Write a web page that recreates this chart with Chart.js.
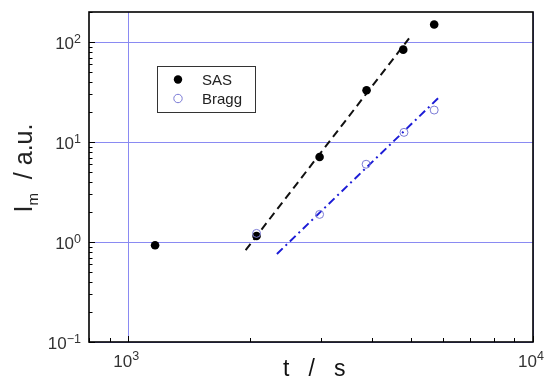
<!DOCTYPE html>
<html><head><meta charset="utf-8">
<script src="https://cdn.jsdelivr.net/npm/chart.js@4/dist/chart.umd.min.js"></script>
<style>html,body{margin:0;padding:0;background:#fff}#wrap{width:547px;height:381px;position:relative}</style>
</head><body><div id="wrap"><canvas id="c"></canvas></div>
<script>
// ---- data ----
const sasT = [1165, 2075, 2970, 3880, 4780, 5700];
const sasI = [0.93, 1.15, 7.1, 33, 84, 150];
const braggT = [2075, 2970, 3870, 4800, 5700];
const braggI = [1.22, 1.89, 6.0, 12.5, 20.9];
const sasFitT = [1950, 4940];
const sasFitI = [0.83, 109];
const braggFitT = [2330, 5860];
const braggFitI = [0.76, 28];
const xTickValues = [1000, 10000];
const xTickExps = ['3', '4'];
const yTickValues = [0.1, 1, 10, 100];
const yTickExps = ['−1', '0', '1', '2'];
const tickBase = '10';
const seriesNames = ['SAS', 'Bragg'];
const xTitle = ' t   /   s';
const yTitleParts = ['I', 'm', '  / a.u.'];

const FONT = '"Liberation Sans", Arial, sans-serif';
const GRID = '#8a8af2';
const toPts = (xs, ys) => xs.map((x, i) => ({x: x, y: ys[i]}));

const minorTicks = {
  id: 'minorTicks',
  afterDatasetsDraw(chart) {
    const {ctx, chartArea: a, scales: {x, y}} = chart;
    ctx.save();
    ctx.strokeStyle = '#000';
    ctx.lineWidth = 1;
    ctx.beginPath();
    for (let d = 100; d <= 10000; d *= 10) {
      for (let k = 1; k <= 9; k++) {
        const v = d * k;
        if (v < x.min || v > x.max) continue;
        const px = Math.round(x.getPixelForValue(v)) + 0.5;
        const len = k === 1 ? 6 : 4;
        ctx.moveTo(px, a.bottom); ctx.lineTo(px, a.bottom - len);
      }
    }
    for (let d = 0.1; d <= 100; d *= 10) {
      for (let k = 1; k <= 9; k++) {
        const v = d * k;
        if (v < y.min * 0.999 || v > y.max) continue;
        const py = Math.round(y.getPixelForValue(v)) + 0.5;
        const len = k === 1 ? 6 : 3.5;
        ctx.moveTo(a.left, py); ctx.lineTo(a.left + len, py);
      }
    }
    ctx.stroke();
    ctx.lineWidth = 1.6;
    ctx.strokeRect(a.left, a.top, a.right - a.left, a.bottom - a.top);
    ctx.restore();
  }
};

// tick labels "10" with a superscript exponent, placed through the scales
const powerLabels = {
  id: 'powerLabels',
  afterDraw(chart) {
    const {ctx, chartArea: a, scales: {x, y}} = chart;
    const big = '17px ' + FONT, small = '12.5px ' + FONT;
    ctx.save();
    ctx.fillStyle = '#333';
    ctx.textBaseline = 'alphabetic';
    yTickValues.forEach((v, i) => {
      const py = y.getPixelForValue(v);
      ctx.font = small; const we = ctx.measureText(yTickExps[i]).width;
      const right = a.left - 8;
      ctx.textAlign = 'left'; ctx.fillText(yTickExps[i], right - we, py + 0.5);
      ctx.font = big; ctx.textAlign = 'right'; ctx.fillText(tickBase, right - we, py + 6.5);
    });
    xTickValues.forEach((v, i) => {
      const px = x.getPixelForValue(v);
      ctx.font = big; const wb = ctx.measureText(tickBase).width;
      ctx.font = small; const we = ctx.measureText(xTickExps[i]).width;
      const left = px - 2 - (wb + we) / 2;
      ctx.font = big; ctx.textAlign = 'left'; ctx.fillText(tickBase, left, a.bottom + 25);
      ctx.font = small; ctx.fillText(xTickExps[i], left + wb, a.bottom + 18);
    });
    ctx.restore();
  }
};

const boxLegend = {
  id: 'boxLegend',
  afterDraw(chart) {
    const {ctx} = chart;
    const ds = chart.data.datasets;
    ctx.save();
    ctx.fillStyle = '#fff';
    ctx.fillRect(157, 66, 98, 46);
    ctx.strokeStyle = '#333';
    ctx.lineWidth = 1;
    ctx.strokeRect(157.5, 66.5, 98, 46);
    const rows = [79.5, 98.5];
    [0, 1].forEach(i => {
      const d = ds[i];
      ctx.beginPath();
      ctx.arc(178, rows[i], 4.2, 0, Math.PI * 2);
      if (i === 0) { ctx.fillStyle = d.backgroundColor; ctx.fill(); }
      else { ctx.strokeStyle = d.borderColor; ctx.lineWidth = 1; ctx.stroke(); }
      ctx.fillStyle = '#222';
      ctx.font = '15px ' + FONT;
      ctx.textBaseline = 'middle';
      ctx.textAlign = 'left';
      ctx.fillText(d.label, 202, rows[i] + 1);
    });
    ctx.restore();
  }
};

const yTitle = {
  id: 'yTitle',
  afterDraw(chart) {
    const {ctx, chartArea: a} = chart;
    ctx.save();
    const big = '25px ' + FONT, small = '15px ' + FONT;
    ctx.font = big; const w0 = ctx.measureText(yTitleParts[0]).width;
    ctx.font = small; const w1 = ctx.measureText(yTitleParts[1]).width;
    ctx.font = big; const w2 = ctx.measureText(yTitleParts[2]).width;
    const total = w0 + w1 + w2;
    const cy = (a.top + a.bottom) / 2 - 9;
    ctx.translate(32, cy + total / 2);
    ctx.rotate(-Math.PI / 2);
    ctx.fillStyle = '#222';
    ctx.textBaseline = 'alphabetic';
    ctx.textAlign = 'left';
    ctx.font = big; ctx.fillText(yTitleParts[0], 0, 0);
    ctx.font = small; ctx.fillText(yTitleParts[1], w0, 6);
    ctx.font = big; ctx.fillText(yTitleParts[2], w0 + w1, 0);
    ctx.restore();
  }
};

new Chart(document.getElementById('c'), {
  type: 'scatter',
  data: {
    datasets: [
      {label: seriesNames[0], data: toPts(sasT, sasI), backgroundColor: '#000', borderColor: '#000',
       pointRadius: 4.3, pointBorderWidth: 0, order: 1},
      {label: seriesNames[1], data: toPts(braggT, braggI), backgroundColor: 'rgba(0,0,0,0)', borderColor: '#7b7bd6',
       pointRadius: 4, pointBorderWidth: 1, order: 0},
      {label: 'SAS fit', data: toPts(sasFitT, sasFitI), showLine: true, borderColor: '#111', borderWidth: 2,
       borderDash: [8, 5], pointRadius: 0, order: 2},
      {label: 'Bragg fit', data: toPts(braggFitT, braggFitI), showLine: true, borderColor: '#1c1cd6', borderWidth: 2,
       borderDash: [8, 4, 2, 4], pointRadius: 0, order: 2}
    ]
  },
  options: {
    responsive: true, maintainAspectRatio: false, animation: false,
    layout: {padding: 0},
    plugins: {legend: {display: false}, tooltip: {enabled: false}},
    scales: {
      x: {
        type: 'logarithmic', min: 800, max: 10000,
        afterBuildTicks: s => { s.ticks = xTickValues.map(v => ({value: v, major: true})); },
        afterFit: s => { s.height = 39; s.paddingLeft = 0; s.paddingRight = 14; },
        ticks: {display: false},
        grid: {color: GRID, lineWidth: 1, drawTicks: false},
        border: {display: false},
        title: {display: true, text: xTitle, font: {family: FONT, size: 23, lineHeight: 1}, color: '#111',
                padding: {top: 0, bottom: 0}}
      },
      y: {
        type: 'logarithmic', min: 0.1, max: 200,
        afterBuildTicks: s => { s.ticks = yTickValues.map(v => ({value: v, major: true})); },
        afterFit: s => { s.width = 89; s.paddingTop = 12; s.paddingBottom = 0; },
        ticks: {display: false},
        grid: {color: GRID, lineWidth: 1, drawTicks: false},
        border: {display: false}
      }
    }
  },
  plugins: [minorTicks, powerLabels, boxLegend, yTitle]
});
</script>
</body></html>
